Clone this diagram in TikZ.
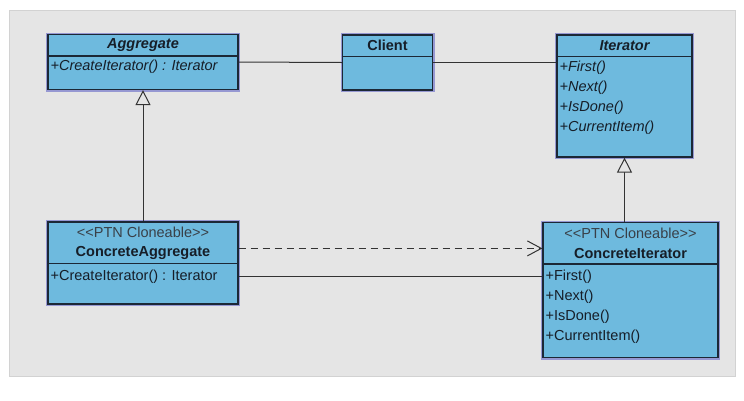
\documentclass[tikz,border=0pt]{standalone}
\usepackage{fontspec}
\setmainfont{Liberation Sans}
\usetikzlibrary{calc,arrows.meta,positioning}
\definecolor{umlblue}{RGB}{110,186,222}
\definecolor{umlline}{RGB}{28,40,54}
\definecolor{umlhalo}{RGB}{150,152,210}
\definecolor{panel}{RGB}{229,229,229}
\definecolor{panelline}{RGB}{210,210,210}
\definecolor{umltext}{RGB}{22,30,40}

\begin{document}
\begin{tikzpicture}[x=1pt,y=-1pt,
	classbox/.style={draw=umlline,fill=umlblue,line width=1.2pt,preaction={draw=umlhalo,line width=4pt},inner sep=0pt},
	classline/.style={draw=umlline,line width=1.2pt},
	title/.style={font=\fontsize{14.5}{16}\selectfont\bfseries,text=umltext,inner sep=0pt},
	stereo/.style={font=\fontsize{14.5}{16}\selectfont,text=umltext!85,inner sep=0pt},
	oper/.style={font=\fontsize{14.5}{16}\selectfont,text=umltext,inner sep=0pt,anchor=west},
	link/.style={draw=black!80,line width=1pt},
	inherit/.style={link,-{Triangle[open,length=15pt,width=15pt,fill=panel]}},
	depend/.style={link,dash pattern=on 7pt off 5pt,-{Straight Barb[length=14pt,width=15pt]}}]
		\useasboundingbox (0,0) rectangle (744,400);
		\draw[fill=panel,draw=panelline,line width=1pt] (9,10) rectangle (735,376);

		% classes
		\node[classbox,minimum width=190,minimum height=55] (agg) at (143,62) {};
		\node[classbox,minimum width=90,minimum height=55] (client) at (387.5,62.5) {};
		\node[classbox,minimum width=135,minimum height=122] (iter) at (624.5,96) {};
		\node[classbox,minimum width=190,minimum height=82] (cagg) at (143,263) {};
		\node[classbox,minimum width=175,minimum height=135] (citer) at (630.5,290) {};

		% compartments
		\draw[classline] ($(agg.north west)+(0,22)$) -- ($(agg.north east)+(0,22)$);
		\draw[classline] ($(client.north west)+(0,22)$) -- ($(client.north east)+(0,22)$);
		\draw[classline] ($(iter.north west)+(0,22)$) -- ($(iter.north east)+(0,22)$);
		\draw[classline] ($(cagg.north west)+(0,42)$) -- ($(cagg.north east)+(0,42)$);
		\draw[classline] ($(citer.north west)+(0,42)$) -- ($(citer.north east)+(0,42)$);

		% names and operations
		\node[title,font=\fontsize{14.5}{16}\selectfont\bfseries\itshape] (agg-name) at ($(agg.north)+(0,11)$) {Aggregate};
		\node[oper,font=\fontsize{14.5}{16}\selectfont\itshape] (agg-op) at ($(agg.north west)+(3,33)$) {+CreateIterator() : Iterator};

		\node[title] (client-name) at ($(client.north)+(0,11)$) {Client};

		\node[title,font=\fontsize{14.5}{16}\selectfont\bfseries\itshape] (iter-name) at ($(iter.north)+(0,11)$) {Iterator};
		\foreach \op [count=\i] in {First(),Next(),IsDone(),CurrentItem()}
			\node[oper,font=\fontsize{14.5}{16}\selectfont\itshape] (iter-op\i) at ($(iter.north west)+(3,13+20*\i)$) {+\op};

		\node[stereo] (cagg-st) at ($(cagg.north)+(0,11)$) {<\kern0pt<PTN Cloneable>\kern0pt>};
		\node[title] (cagg-name) at ($(cagg.north)+(0,32)$) {ConcreteAggregate};
		\node[oper] (cagg-op) at ($(cagg.north west)+(3,55)$) {+CreateIterator() : Iterator};

		\node[stereo] (citer-st) at ($(citer.north)+(0,11)$) {<\kern0pt<PTN Cloneable>\kern0pt>};
		\node[title] (citer-name) at ($(citer.north)+(0,32)$) {ConcreteIterator};
		\foreach \op [count=\i] in {First(),Next(),IsDone(),CurrentItem()}
			\node[oper] (citer-op\i) at ($(citer.north west)+(3,35+20*\i)$) {+\op};

		% connectors
		\draw[link] (agg.east) -- (client.west);
		\draw[link] (client.east) -- (client.east -| iter.west);
		\draw[inherit] (cagg.north) -- (agg.south);
		\draw[inherit] (iter.south |- citer.north) -- (iter.south);
		\coordinate (dep) at ($(cagg.north east)+(0,27)$);
		\coordinate (assoc) at ($(cagg.north east)+(0,55)$);
		\draw[depend] (dep) -- (dep -| citer.west);
		\draw[link] (assoc) -- (assoc -| citer.west);
	\end{tikzpicture}
\end{document}
